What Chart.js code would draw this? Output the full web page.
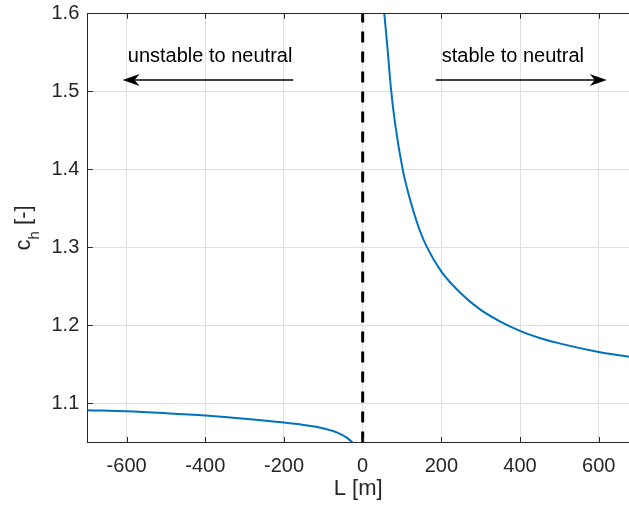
<!DOCTYPE html>
<html>
<head>
<meta charset="utf-8">
<script src="https://cdn.jsdelivr.net/npm/chart.js@4/dist/chart.umd.min.js"></script>
<style>
  html, body { margin: 0; padding: 0; background: #ffffff; overflow: hidden; }
  #wrap { width: 629px; height: 510px; position: relative; }
  canvas { display: block; }
</style>
</head>
<body>
<div id="wrap"><canvas id="c" width="629" height="510"></canvas></div>
<script>
// ---- data ----
const stableL  = [54.9, 63.5, 71.6, 82.1, 101.7, 118.5, 128.7, 145, 162.7, 200, 250, 300, 350, 400, 450, 500, 600, 677];
const stableCh = [1.600, 1.553, 1.505, 1.460, 1.400, 1.365, 1.347, 1.322, 1.301, 1.269, 1.241, 1.220, 1.205, 1.193, 1.184, 1.177, 1.166, 1.160];

const unstableL  = [-700, -600, -500, -400, -300, -200, -150, -108, -66, -40.5, -23.5];
const unstableCh = [1.0914, 1.0900, 1.0875, 1.0845, 1.0805, 1.0756, 1.0725, 1.0690, 1.0630, 1.0562, 1.0490];

const neutralL  = [0, 0];
const neutralCh = [1.05, 1.6];

const xTickValues = [-600, -400, -200, 0, 200, 400, 600];
const yTickValues = [1.1, 1.2, 1.3, 1.4, 1.5, 1.6];
const xLimits = [-700, 677];
const yLimits = [1.05, 1.6];

const xTitle = 'L [m]';
const yTitleMain = 'c';
const yTitleSub = 'h';
const yTitleRest = ' [-]';

const noteTexts = ['unstable to neutral', 'stable to neutral'];
const noteX = [-597, 201];
const noteY = [1.5376, 1.5376];
const arrowFromX = [-176.5, 185.6];
const arrowToX = [-610.2, 620.4];
const arrowY = [1.5145, 1.5145];

// ---- styling ----
const FONT = '"Liberation Sans", Arial, Helvetica, sans-serif';
const AXIS_COLOR = '#262626';
const GRID_COLOR = '#dfdfdf';
const LINE_COLOR = '#0072BD';

const toPts = (xs, ys) => xs.map((x, i) => ({ x: x, y: ys[i] }));

const matlabAxes = {
  id: 'matlabAxes',
  afterDraw(chart) {
    const ctx = chart.ctx;
    const area = chart.chartArea;
    const xs = chart.scales.x, ys = chart.scales.y;
    ctx.save();
    // top box line
    ctx.strokeStyle = AXIS_COLOR;
    ctx.lineWidth = 1;
    ctx.beginPath();
    ctx.moveTo(area.left, Math.round(area.top) + 0.5);
    ctx.lineTo(area.right, Math.round(area.top) + 0.5);
    ctx.stroke();
    // inward ticks
    const tl = 5.5;
    ctx.beginPath();
    xTickValues.forEach(v => {
      const px = Math.round(xs.getPixelForValue(v)) + 0.5;
      ctx.moveTo(px, area.bottom); ctx.lineTo(px, area.bottom - tl);
      ctx.moveTo(px, area.top); ctx.lineTo(px, area.top + tl);
    });
    yTickValues.forEach(v => {
      const py = Math.round(ys.getPixelForValue(v)) + 0.5;
      ctx.moveTo(area.left, py); ctx.lineTo(area.left + tl, py);
    });
    ctx.stroke();

    // annotations: arrows
    ctx.strokeStyle = '#000';
    ctx.fillStyle = '#000';
    ctx.lineWidth = 1.3;
    for (let i = 0; i < arrowFromX.length; i++) {
      const x0 = xs.getPixelForValue(arrowFromX[i]);
      const x1 = xs.getPixelForValue(arrowToX[i]);
      const y = ys.getPixelForValue(arrowY[i]);
      const dir = Math.sign(x1 - x0);
      const len = 17, half = 6, notch = 12;
      ctx.beginPath();
      ctx.moveTo(x0, y);
      ctx.lineTo(x1 - dir * notch, y);
      ctx.stroke();
      ctx.beginPath();
      ctx.moveTo(x1, y);
      ctx.lineTo(x1 - dir * len, y - half);
      ctx.lineTo(x1 - dir * notch, y);
      ctx.lineTo(x1 - dir * len, y + half);
      ctx.closePath();
      ctx.fill();
    }
    // annotation texts
    ctx.font = '20px ' + FONT;
    ctx.textAlign = 'left';
    ctx.textBaseline = 'alphabetic';
    for (let i = 0; i < noteTexts.length; i++) {
      ctx.fillText(noteTexts[i], xs.getPixelForValue(noteX[i]), ys.getPixelForValue(noteY[i]));
    }

    // y-axis title with subscript
    const mainFont = '22px ' + FONT;
    const subFont = '15px ' + FONT;
    ctx.font = mainFont;
    const wMain = ctx.measureText(yTitleMain).width;
    const wRest = ctx.measureText(yTitleRest).width;
    ctx.font = subFont;
    const wSub = ctx.measureText(yTitleSub).width;
    const total = wMain + wSub + wRest;
    const cy = (area.top + area.bottom) / 2;
    ctx.translate(30, cy);
    ctx.rotate(-Math.PI / 2);
    ctx.fillStyle = AXIS_COLOR;
    let sx = -total / 2;
    ctx.font = mainFont;
    ctx.fillText(yTitleMain, sx, 0);
    sx += wMain;
    ctx.font = subFont;
    ctx.fillText(yTitleSub, sx, 9);
    sx += wSub;
    ctx.font = mainFont;
    ctx.fillText(yTitleRest, sx, 0);
    ctx.restore();
  }
};

new Chart(document.getElementById('c'), {
  type: 'line',
  data: {
    datasets: [
      {
        label: 'unstable',
        data: toPts(unstableL, unstableCh),
        borderColor: LINE_COLOR,
        borderWidth: 2,
        pointRadius: 0,
        cubicInterpolationMode: 'monotone',
        clip: { left: 0, top: 0, right: 0, bottom: 0 }
      },
      {
        label: 'stable',
        data: toPts(stableL, stableCh),
        borderColor: LINE_COLOR,
        borderWidth: 2,
        pointRadius: 0,
        cubicInterpolationMode: 'monotone',
        clip: { left: 0, top: 0, right: 0, bottom: 0 }
      },
      {
        label: 'neutral',
        data: toPts(neutralL, neutralCh),
        borderColor: '#000000',
        borderWidth: 3,
        borderDash: [11, 9],
        pointRadius: 0,
        clip: { left: 0, top: 0, right: 0, bottom: 0 }
      }
    ]
  },
  options: {
    responsive: false,
    animation: false,
    devicePixelRatio: 1,
    layout: { padding: { top: 13.3, right: 0, bottom: 0, left: 0 } },
    plugins: { legend: { display: false }, tooltip: { enabled: false } },
    scales: {
      x: {
        type: 'linear',
        min: xLimits[0],
        max: xLimits[1],
        afterBuildTicks: s => { s.ticks = xTickValues.map(v => ({ value: v })); },
        afterFit: s => { s.height = 67.5; s.paddingLeft = 0; s.paddingRight = 0; s.paddingTop = 0; s.paddingBottom = 0; },
        ticks: {
          color: AXIS_COLOR,
          font: { family: FONT, size: 20 },
          padding: 12,
          maxRotation: 0,
          autoSkip: false,
          callback: v => String(v)
        },
        grid: { color: GRID_COLOR, drawTicks: false, lineWidth: 1 },
        border: { display: true, color: AXIS_COLOR, width: 1 },
        title: {
          display: true,
          text: xTitle,
          color: AXIS_COLOR,
          font: { family: FONT, size: 22 },
          padding: { top: 0, bottom: 8 }
        }
      },
      y: {
        type: 'linear',
        min: yLimits[0],
        max: yLimits[1],
        afterBuildTicks: s => { s.ticks = yTickValues.map(v => ({ value: v })); },
        afterFit: s => { s.width = 87.3; s.paddingTop = 0; s.paddingBottom = 0; s.paddingLeft = 0; s.paddingRight = 0; },
        ticks: {
          color: AXIS_COLOR,
          font: { family: FONT, size: 20 },
          padding: 8,
          autoSkip: false,
          callback: v => v.toFixed(1)
        },
        grid: { color: GRID_COLOR, drawTicks: false, lineWidth: 1 },
        border: { display: true, color: AXIS_COLOR, width: 1 }
      }
    }
  },
  plugins: [matlabAxes]
});
</script>
</body>
</html>
